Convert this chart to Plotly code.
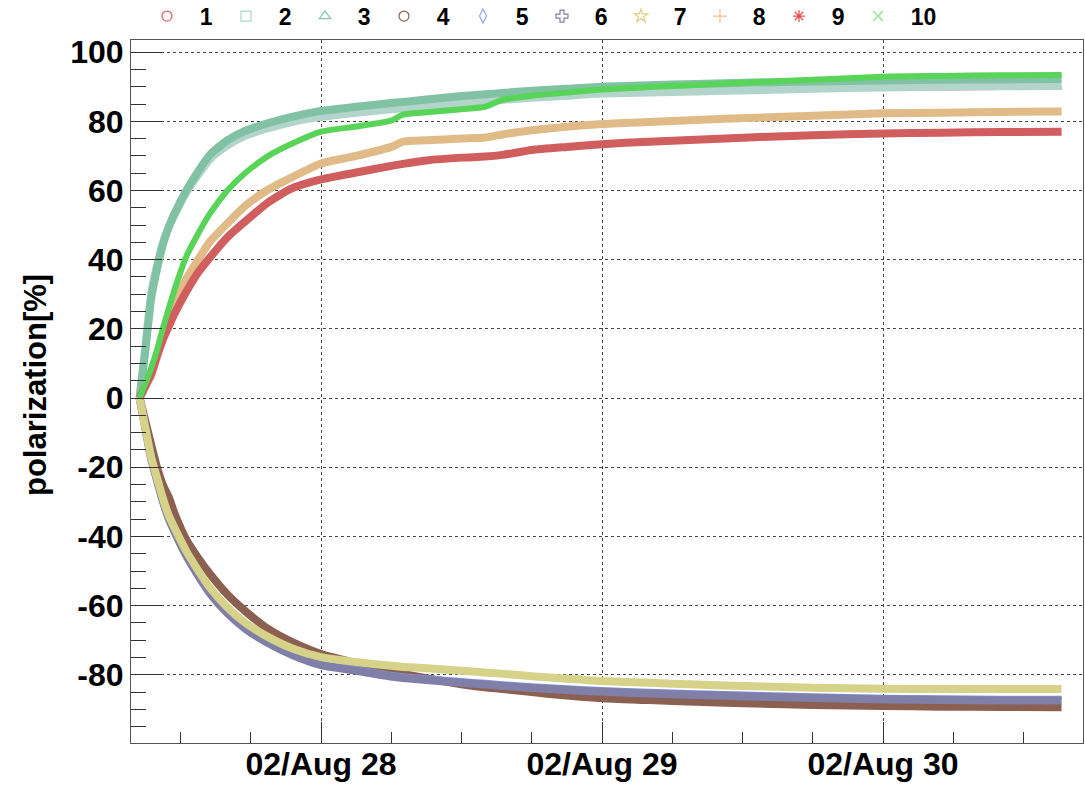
import plotly.graph_objects as go

# Sample times shared by all channels
times = [
    "2002-08-27 08:30", "2002-08-27 09:00", "2002-08-27 09:30", "2002-08-27 10:00",
    "2002-08-27 10:30", "2002-08-27 11:00", "2002-08-27 11:30", "2002-08-27 12:30",
    "2002-08-27 13:30", "2002-08-27 14:30", "2002-08-27 16:00", "2002-08-27 17:30",
    "2002-08-27 19:30", "2002-08-27 21:30", "2002-08-28 00:00", "2002-08-28 03:00",
    "2002-08-28 06:00", "2002-08-28 07:00", "2002-08-28 09:00", "2002-08-28 12:00",
    "2002-08-28 14:00", "2002-08-28 15:30", "2002-08-28 18:00", "2002-08-28 21:00",
    "2002-08-29 00:00", "2002-08-29 04:00", "2002-08-29 08:00", "2002-08-29 13:00",
    "2002-08-29 18:00", "2002-08-30 00:00", "2002-08-30 05:00", "2002-08-30 10:00",
    "2002-08-30 15:15",
]

# Polarization [%] per channel
pol_1 = [0, 14.5, 29.5, 38, 45, 50, 54, 60.5, 66, 71, 75, 77.5, 79.3, 80.8, 82, 83.3, 84.3,
         84.6, 85.2, 86, 86.5, 86.9, 87.4, 87.9, 88.4, 88.6, 88.8, 89, 89.2, 89.4, 89.5, 89.6, 89.7]
pol_2 = [0, 15, 30.5, 38.5, 45, 49.5, 53, 59.5, 64.5, 69, 73, 75.8, 78, 79.8, 81.3, 82.5, 83.5,
         83.8, 84.4, 85.3, 85.8, 86.2, 86.8, 87.4, 88, 88.3, 88.6, 89, 89.4, 89.8, 90, 90.1, 90.2]
pol_3 = [0, 14, 29, 37.5, 44.5, 49.5, 53.5, 60, 65.5, 70.3, 74.5, 77.2, 79.5, 81.3, 83, 84.2, 85.3,
         85.6, 86.3, 87.3, 87.8, 88.2, 88.8, 89.4, 90, 90.4, 90.8, 91.2, 91.5, 91.8, 92, 92.1, 92.2]
pol_4 = [0, -6.8, -13.6, -20.2, -25.2, -28.7, -33.5, -41, -46.2, -50.8, -56.8, -61.5, -66.8, -70.5,
         -74, -76.6, -79, -79.7, -81, -82.7, -83.6, -84.1, -85, -86, -86.8, -87.3, -87.8, -88.3,
         -88.7, -89, -89.2, -89.3, -89.4]
pol_5 = [0, -8.9, -17.5, -23.6, -29.5, -34.4, -38.2, -45, -50.5, -55.6, -61.4, -65.8, -70.1, -73.4,
         -76.4, -78, -79.7, -80.1, -80.7, -81.5, -82, -82.4, -83, -83.6, -84.1, -84.6, -85, -85.5,
         -85.9, -86.3, -86.5, -86.6, -86.6]
pol_6 = [0, -9, -17.8, -24, -30, -35, -38.8, -45.7, -51.3, -56.4, -62.2, -66.6, -70.9, -74.2,
         -77.2, -78.8, -80.5, -80.9, -81.5, -82.3, -82.8, -83.2, -83.8, -84.4, -84.9, -85.4, -85.8,
         -86.3, -86.7, -87.1, -87.3, -87.4, -87.4]
pol_7 = [0, -8.7, -17.2, -23.2, -29.1, -34, -37.6, -44.3, -49.8, -54.8, -60.5, -64.9, -69.1, -72.3,
         -74.9, -76.3, -77.4, -77.7, -78.1, -78.8, -79.3, -79.7, -80.4, -81.1, -81.8, -82.3, -82.8,
         -83.3, -83.7, -84, -84.1, -84.1, -84.1]
pol_8 = [0, 3.5, 6.5, 12.5, 18.3, 22.5, 26.8, 34.5, 40, 45.2, 50.5, 55.5, 60.3, 63.8, 67.8, 70, 72.6,
         74.1, 74.5, 75, 75.3, 76.2, 77.4, 78.4, 79.2, 79.8, 80.4, 81, 81.6, 82.3, 82.5, 82.7, 82.8]
pol_9 = [0, 3.5, 7.2, 12.2, 17, 20.8, 24.5, 30.8, 36.3, 40.6, 46.5, 51, 56.6, 60.6, 63.2, 65.2, 67.1,
         67.7, 68.7, 69.5, 69.8, 70.3, 71.7, 72.6, 73.4, 74.1, 74.7, 75.4, 76, 76.5, 76.7, 76.9, 77]
pol_10 = [0, 4.3, 8.8, 14, 20.3, 26, 31.5, 41, 47.5, 53.3, 60, 65, 70, 73.5, 77, 78.5, 80.2, 81.9,
          82.6, 83.5, 84.2, 86.2, 87.4, 88.3, 89.2, 89.9, 90.5, 91.3, 92, 92.9, 93.1, 93.3, 93.4]

channels = ["1", "2", "3", "4", "5", "6", "7", "8", "9", "10"]
series = [pol_1, pol_2, pol_3, pol_4, pol_5, pol_6, pol_7, pol_8, pol_9, pol_10]

# y-axis tick values and their labels (plain hyphen minus)
y_tickvals = [-80, -60, -40, -20, 0, 20, 40, 60, 80, 100]
y_ticktext = ["-80", "-60", "-40", "-20", "0", "20", "40", "60", "80", "100"]

band_colors = ["#d65f5f", "#b2d4ca", "#82c2a4", "#8c6050", "#7f92dd",
               "#7f7fa8", "#d6d28a", "#e0bb88", "#d05e5e", "#58d458"]
legend_colors = ["#e06060", "#a8d8c8", "#7fcaa5", "#8c6050", "#8fa6e8",
                 "#7f7fa8", "#d8d080", "#f0c090", "#e05050", "#8fe08f"]
band_widths = [4, 8, 8, 8, 4, 8, 8, 8, 8, 6]
symbols = ["circle-open", "square-open", "triangle-up-open", "circle-open", "diamond-tall-open",
           "cross-open", "star-open", "cross-thin-open", "asterisk-open", "x-thin-open"]

fig = go.Figure()

for name, vals, col, w in zip(channels, series, band_colors, band_widths):
    fig.add_trace(go.Scatter(
        x=times, y=vals, mode="lines", name=name, legendgroup=name, showlegend=False,
        line=dict(color=col, width=w, shape="spline", smoothing=0.6), hoverinfo="x+y",
    ))

# legend entries: marker symbol, then the channel number set a little apart
pad = "\u00a0\u00a0"
for name, col, sym in zip(channels, legend_colors, symbols):
    fig.add_trace(go.Scatter(
        x=[None], y=[None], mode="markers", name=pad + name, legendgroup=name,
        marker=dict(symbol=sym, color=col, size=10, line=dict(color=col, width=1.2)),
    ))

font_family = "Liberation Sans, Arial, sans-serif"
day_ms = 24 * 3600 * 1000

fig.update_layout(
    width=1085, height=785,
    margin=dict(l=131, r=2, t=40, b=42, autoexpand=False),
    paper_bgcolor="white", plot_bgcolor="white",
    font=dict(family=font_family, color="black"),
    legend=dict(
        orientation="h", x=0.0168, xanchor="left", y=1.034, yanchor="middle",
        yref="paper", entrywidth=34, entrywidthmode="pixels",
        font=dict(size=23, family=font_family, weight="bold"),
        itemwidth=30, bgcolor="rgba(0,0,0,0)", tracegroupgap=0,
    ),
    xaxis=dict(
        type="date",
        range=["2002-08-27 07:46", "2002-08-30 17:05"],
        tickmode="linear", tick0="2002-08-28 00:00", dtick=day_ms,
        tickformat="%y/%b %d",
        ticks="inside", ticklen=21, tickwidth=1, tickcolor="#333",
        ticklabelstandoff=-7,
        showline=True, linecolor="#555", linewidth=1, mirror=True,
        showgrid=True, gridcolor="#444", griddash="dot", gridwidth=1,
        zeroline=False,
        tickfont=dict(size=32, family=font_family, weight="bold"),
        minor=dict(ticks="inside", ticklen=11, tickcolor="#333",
                   tick0="2002-08-28 00:00", dtick=6 * 3600 * 1000, showgrid=False),
    ),
    yaxis=dict(
        range=[-99.7, 103.5],
        tickmode="array", tickvals=y_tickvals, ticktext=y_ticktext,
        ticks="inside", ticklen=31, tickwidth=1, tickcolor="#333",
        showline=True, linecolor="#555", linewidth=1, mirror=True,
        showgrid=True, gridcolor="#444", griddash="dot", gridwidth=1,
        zeroline=False,
        tickfont=dict(size=32, family=font_family, weight="bold"),
        minor=dict(ticks="inside", ticklen=15, tickcolor="#333",
                   tick0=0, dtick=5, showgrid=False),
    ),
    annotations=[dict(
        text="polarization[%]", textangle=-90, showarrow=False,
        xref="paper", yref="paper", x=-0.101, y=0.509,
        xanchor="center", yanchor="middle",
        font=dict(size=31, family=font_family, weight="bold", color="black"),
    )],
)

fig.write_html("out.html")
